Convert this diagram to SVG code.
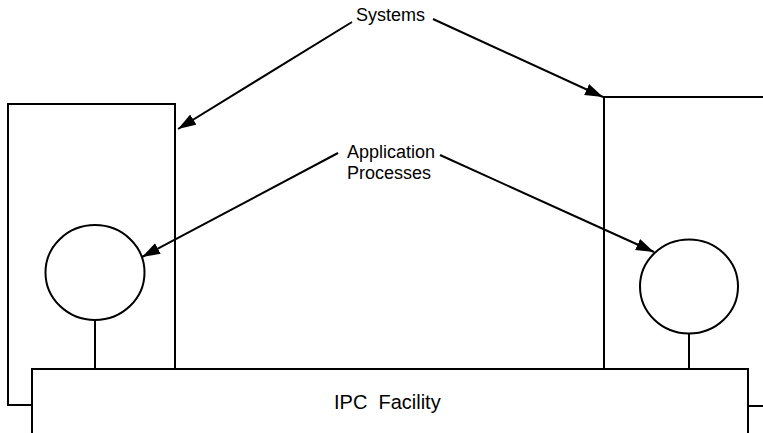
<svg xmlns="http://www.w3.org/2000/svg" width="763" height="433" viewBox="0 0 763 433">
<style>
.s{fill:none;stroke:#000;stroke-width:2}
.t{font-family:"Liberation Sans",Arial,sans-serif;font-size:18px;fill:#000}
.c{stroke:#000;stroke-width:2;fill:none}
</style>
<defs>
<marker id="ah" markerUnits="userSpaceOnUse" markerWidth="20" markerHeight="14" refX="18" refY="6" orient="auto" viewBox="0 0 20 14">
<path d="M0,0 L18,6 L0,12 z" fill="#000"/>
</marker>
</defs>
<rect width="763" height="433" fill="#fff"/>
<g id="system-left">
<path class="s" d="M32,405 H8 V104 H175 V369"/>
</g>
<g id="system-right">
<path class="s" d="M604,369 V97 H763"/>
<path class="s" d="M748,406 H763"/>
</g>
<g id="ipc">
<path class="s" d="M32,433 V369 H748 V433"/>
<text class="t" x="334" y="409" style="font-size:20px;white-space:pre" xml:space="preserve">IPC  Facility</text>
</g>
<g id="ap-left">
<ellipse class="s" cx="95" cy="272.5" rx="49.5" ry="47.5"/>
<line class="s" x1="95" y1="320" x2="95" y2="369"/>
</g>
<g id="ap-right">
<ellipse class="s" cx="689" cy="286.5" rx="49" ry="47"/>
<line class="s" x1="689" y1="333.5" x2="689" y2="369"/>
</g>
<g id="label-systems">
<text class="t" x="356" y="21">Systems</text>
</g>
<g id="label-ap">
<text class="t" x="347" y="158">Application</text>
<text class="t" x="347" y="179">Processes</text>
</g>
<g id="connectors">
<line class="c" x1="352" y1="22" x2="178" y2="129" marker-end="url(#ah)"/>
<line class="c" x1="433" y1="19" x2="603" y2="97" marker-end="url(#ah)"/>
<line class="c" x1="338" y1="153" x2="142" y2="257" marker-end="url(#ah)"/>
<line class="c" x1="440" y1="155" x2="654" y2="252" marker-end="url(#ah)"/>
</g>
</svg>
